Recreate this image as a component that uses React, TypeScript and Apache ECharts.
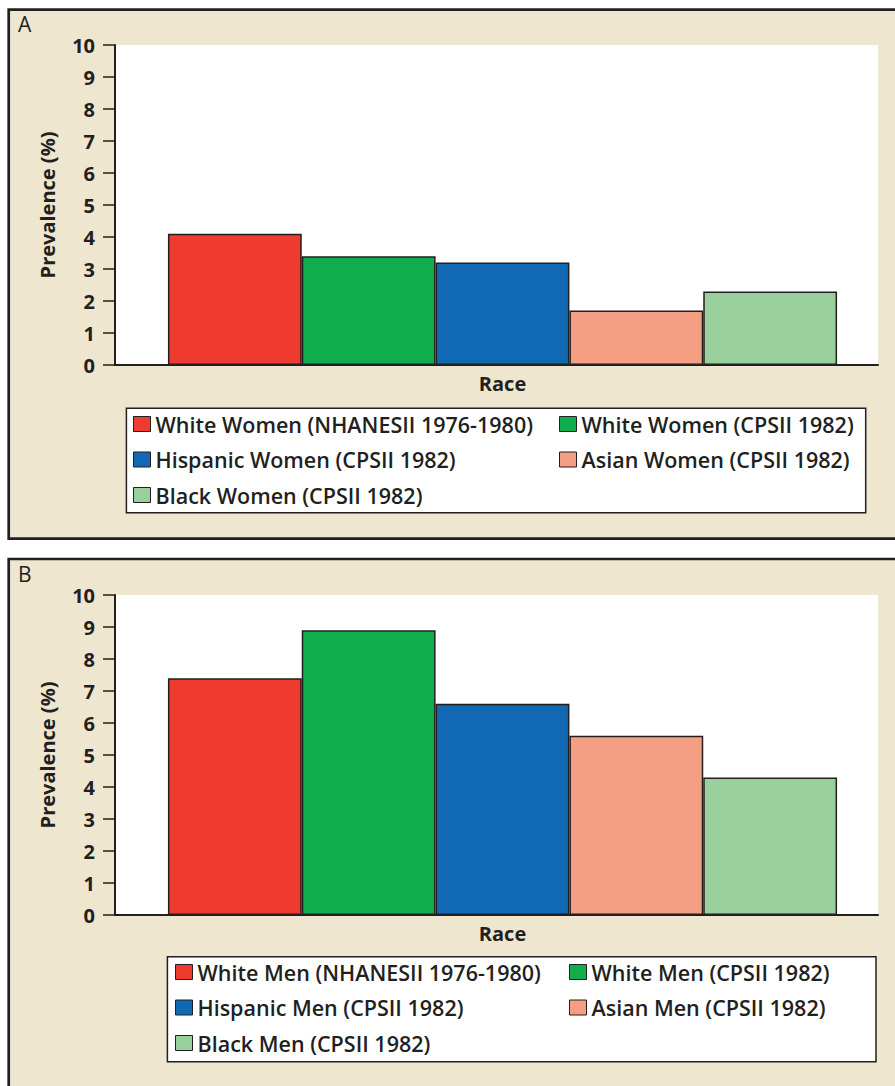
import React, { useEffect, useRef } from "react";
import * as echarts from "echarts";

const CATEGORIES = ["Race"];
const WOMEN_NAMES = [
  "White Women (NHANESII 1976-1980)",
  "White Women (CPSII 1982)",
  "Hispanic Women (CPSII 1982)",
  "Asian Women (CPSII 1982)",
  "Black Women (CPSII 1982)",
];
const WOMEN_VALUES = [4.1, 3.4, 3.2, 1.7, 2.3];
const MEN_NAMES = [
  "White Men (NHANESII 1976-1980)",
  "White Men (CPSII 1982)",
  "Hispanic Men (CPSII 1982)",
  "Asian Men (CPSII 1982)",
  "Black Men (CPSII 1982)",
];
const MEN_VALUES = [7.4, 8.9, 6.6, 5.6, 4.3];
const COLORS = ["#EE3A2F", "#10AD4D", "#1169B4", "#F49F83", "#98CF9B"];
const Y_MIN = 0;
const Y_MAX = 10;
const Y_INTERVAL = 1;
const PANEL_LABELS = ["A", "B"];
const Y_NAME = "Prevalence (%)";
const X_NAME = "Race";

const INK = "#231F20";
const BEIGE = "#EEE6CF";
const FONT = "'Open Sans', sans-serif";

export default function App() {
  const ref = useRef<HTMLDivElement>(null);

  useEffect(() => {
    if (!ref.current) return;
    const chart = echarts.init(ref.current, null, { renderer: "svg" });

    const grids = [
      { left: 127, top: 45, width: 751, height: 320 },
      { left: 127, top: 595, width: 751, height: 320 },
    ];

    const xAxes = grids.map((_, i) => ({
      type: "category",
      gridIndex: i,
      data: CATEGORIES,
      name: X_NAME,
      nameLocation: "middle",
      nameGap: 8,
      nameTextStyle: { fontFamily: FONT, fontWeight: "bold", fontSize: 20, color: INK },
      axisLine: { show: true, lineStyle: { color: INK, width: 2 } },
      axisTick: { show: false },
      axisLabel: { show: false },
      z: 3,
    }));

    const yAxes = grids.map((_, i) => ({
      type: "value",
      gridIndex: i,
      min: Y_MIN,
      max: Y_MAX,
      interval: Y_INTERVAL,
      offset: 12,
      name: Y_NAME,
      nameLocation: "middle",
      nameGap: 58,
      nameTextStyle: { fontFamily: FONT, fontWeight: "bold", fontSize: 20, color: INK },
      axisLine: { show: true, lineStyle: { color: INK, width: 2 } },
      axisTick: { show: true, inside: false, length: 12, lineStyle: { color: INK, width: 1.5 } },
      axisLabel: { margin: 20, fontFamily: FONT, fontWeight: "bold", fontSize: 20, color: INK },
      splitLine: { show: false },
      z: 3,
    }));

    const makeSeries = (names: string[], values: number[], idx: number) =>
      names.map((name, k) => ({
        type: "bar",
        name,
        xAxisIndex: idx,
        yAxisIndex: idx,
        data: [values[k]],
        barGap: "0%",
        barCategoryGap: "10.9%",
        itemStyle: { color: COLORS[k], borderColor: INK, borderWidth: 1.5 },
        emphasis: { disabled: true },
      }));

    const legendText = { fontFamily: FONT, fontWeight: 600, fontSize: 21.5, color: INK, lineHeight: 20 };
    const legendBase = {
      orient: "vertical",
      padding: 0,
      itemGap: 13.5,
      itemWidth: 17,
      itemHeight: 15,
      icon: "rect",
      selectedMode: false,
      itemStyle: { borderColor: INK, borderWidth: 1 },
      textStyle: legendText,
    };

    const legends = [
      { ...legendBase, left: 133, top: 413, data: [WOMEN_NAMES[0], WOMEN_NAMES[2], WOMEN_NAMES[4]] },
      { ...legendBase, left: 559, top: 413, data: [WOMEN_NAMES[1], WOMEN_NAMES[3]] },
      { ...legendBase, left: 175, top: 961, data: [MEN_NAMES[0], MEN_NAMES[2], MEN_NAMES[4]] },
      { ...legendBase, left: 569, top: 961, data: [MEN_NAMES[1], MEN_NAMES[3]] },
    ];

    const titles = PANEL_LABELS.map((t, i) => ({
      text: t,
      left: 18,
      top: i === 0 ? 13 : 563,
      padding: 0,
      textStyle: { fontFamily: FONT, fontWeight: "normal", fontSize: 21, color: INK },
    }));

    const graphic = [
      { type: "rect", z: -10, shape: { x: 8.7, y: 9.7, width: 1000, height: 529 }, style: { fill: BEIGE, stroke: INK, lineWidth: 2.7 } },
      { type: "rect", z: -10, shape: { x: 8.7, y: 559, width: 1000, height: 700 }, style: { fill: BEIGE, stroke: INK, lineWidth: 2.7 } },
      { type: "rect", z: -9, shape: { x: 115, y: 45, width: 763, height: 320 }, style: { fill: "#FFFFFF" } },
      { type: "rect", z: -9, shape: { x: 115, y: 595, width: 763, height: 320 }, style: { fill: "#FFFFFF" } },
      { type: "line", z: -8, shape: { x1: 114, y1: 365, x2: 128, y2: 365 }, style: { stroke: INK, lineWidth: 2 } },
      { type: "line", z: -8, shape: { x1: 114, y1: 915, x2: 128, y2: 915 }, style: { stroke: INK, lineWidth: 2 } },
      { type: "rect", z: -8, shape: { x: 126.4, y: 408.3, width: 739.3, height: 104.4 }, style: { fill: "#FFFFFF", stroke: INK, lineWidth: 1.5 } },
      { type: "rect", z: -8, shape: { x: 167.4, y: 956.7, width: 708.6, height: 105 }, style: { fill: "#FFFFFF", stroke: INK, lineWidth: 1.5 } },
    ];

    chart.setOption({
      animation: false,
      title: titles,
      grid: grids,
      xAxis: xAxes,
      yAxis: yAxes,
      legend: legends,
      graphic,
      series: [...makeSeries(WOMEN_NAMES, WOMEN_VALUES, 0), ...makeSeries(MEN_NAMES, MEN_VALUES, 1)],
    });

    return () => chart.dispose();
  }, []);

  return (
    <div
      ref={ref}
      style={{ position: "absolute", left: 0, top: 0, width: 895, height: 1086 }}
    />
  );
}
